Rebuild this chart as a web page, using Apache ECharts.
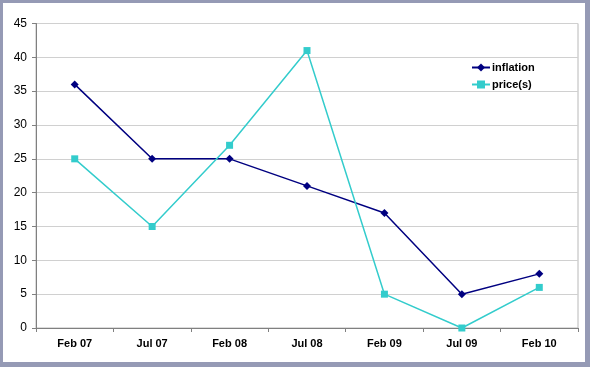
<!DOCTYPE html>
<html><head><meta charset="utf-8">
<script src="https://cdn.jsdelivr.net/npm/echarts@6/dist/echarts.min.js"></script>
<style>html,body{margin:0;padding:0;}#c{width:590px;height:367px;}</style>
</head><body><div id="c"></div>
<script>
var categories = ['Feb 07','Jul 07','Feb 08','Jul 08','Feb 09','Jul 09','Feb 10'];
var inflation = [36, 25, 25, 21, 17, 5, 8];
var prices = [25, 15, 27, 41, 5, 0, 6];

var chart = echarts.init(document.getElementById('c'));
chart.setOption({
  backgroundColor: '#959ab5',
  animation: false,
  graphic: [{type:'rect', shape:{x:3,y:3,width:582,height:359}, style:{fill:'#ffffff'}, z:-10}],
  grid: {left:36, top:23.5, width:542, height:304.5, show:true, borderColor:'#b8b8b8', borderWidth:1, backgroundColor:'transparent'},
  legend: {
    left: 466, top: 57, orient: 'vertical', itemGap: 6, itemWidth: 18, itemHeight: 10,
    textStyle: {fontFamily:'Liberation Sans, Arial', fontSize:11, fontWeight:'bold', color:'#000', padding:[0,0,0,-3]},
    data: ['inflation', 'price(s)']
  },
  xAxis: {
    type:'category', data: categories, boundaryGap:true,
    axisLine:{lineStyle:{color:'#808080', width:1}},
    axisTick:{show:true, length:4, inside:false, lineStyle:{color:'#808080'}},
    axisLabel:{fontFamily:'Liberation Sans, Arial', fontSize:11, fontWeight:'bold', color:'#000', margin:10},
    splitLine:{show:false}
  },
  yAxis: {
    type:'value', min:0, max:45, interval:5,
    axisLine:{show:true, lineStyle:{color:'#808080'}},
    axisTick:{show:true, length:4, lineStyle:{color:'#808080'}},
    axisLabel:{fontFamily:'Liberation Sans, Arial', fontSize:12, color:'#000', margin:9},
    splitLine:{lineStyle:{color:'#d0d0d0', width:1}}
  },
  series: [
    {name:'inflation', type:'line', data: inflation, symbol:'diamond', symbolSize:8,
     lineStyle:{color:'#000080', width:1.5}, itemStyle:{color:'#000080'}},
    {name:'price(s)', type:'line', data: prices, symbol:'rect', symbolSize:7,
     lineStyle:{color:'#33cccc', width:1.5}, itemStyle:{color:'#33cccc'}}
  ]
});
</script></body></html>
